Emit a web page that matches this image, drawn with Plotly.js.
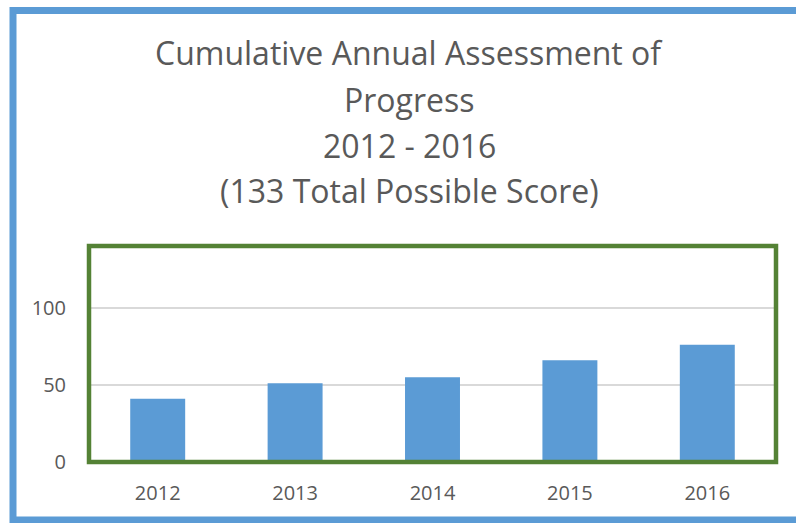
<!DOCTYPE html>
<html>
<head>
<meta charset="utf-8">
<script src="https://cdn.plot.ly/plotly-3.0.1.min.js"></script>
<style>html,body{margin:0;padding:0;background:#fff;}#chart{width:796px;height:523px;}</style>
</head>
<body>
<div id="chart"></div>
<script>
const years = ['2012', '2013', '2014', '2015', '2016'];
const scores = [41, 51, 55, 66, 76];
const titleLines = ['Cumulative Annual Assessment of', 'Progress', '2012 - 2016', '(133 Total Possible Score)'];
const yTicks = [0, 50, 100];

const W = 796, H = 523;
const mL = 89, mR = 20, mT = 246, mB = 61;
const pw = W - mL - mR, ph = H - mT - mB;
const px = x => (x - mL) / pw;
const py = y => (H - mB - y) / ph;

const titleCenters = [53, 99, 145, 190];
const annotations = titleLines.map((t, i) => ({
  text: t, xref: 'paper', yref: 'paper', x: px(409), y: py(titleCenters[i]),
  xanchor: 'center', yanchor: 'middle', showarrow: false,
  font: {family: 'Open Sans, sans-serif', size: 32, color: '#595959'}
}));

const trace = {
  type: 'bar', x: years, y: scores,
  marker: {color: '#5B9BD5', line: {width: 0}},
  hoverinfo: 'x+y'
};

const layout = {
  width: W, height: H,
  margin: {l: mL, r: mR, t: mT, b: mB, pad: 0},
  paper_bgcolor: '#ffffff', plot_bgcolor: '#ffffff',
  showlegend: false,
  bargap: 0.6,
  font: {family: 'Open Sans, sans-serif', color: '#595959', size: 20},
  xaxis: {
    type: 'category', showgrid: false, zeroline: false, showline: false,
    ticks: 'outside', ticklen: 13, tickcolor: 'rgba(0,0,0,0)',
    tickfont: {size: 20, color: '#595959'}
  },
  yaxis: {
    range: [0, 140], tickvals: yTicks, ticktext: yTicks.map(String),
    showgrid: true, gridcolor: '#d9d9d9', gridwidth: 2, zeroline: false, showline: false,
    ticks: 'outside', ticklen: 18, tickcolor: 'rgba(0,0,0,0)',
    tickfont: {size: 20, color: '#595959'}
  },
  shapes: [
    {type: 'rect', xref: 'paper', yref: 'paper', x0: 0, x1: 1, y0: 0, y1: 1,
     line: {color: '#548235', width: 4.5}, layer: 'above'},
    {type: 'rect', xref: 'paper', yref: 'paper', x0: px(13), x1: px(803), y0: py(520), y1: py(10.5),
     line: {color: '#5B9BD5', width: 7}, layer: 'above'}
  ],
  annotations: annotations
};

Plotly.newPlot('chart', [trace], layout, {displayModeBar: false, staticPlot: true});
</script>
</body>
</html>
